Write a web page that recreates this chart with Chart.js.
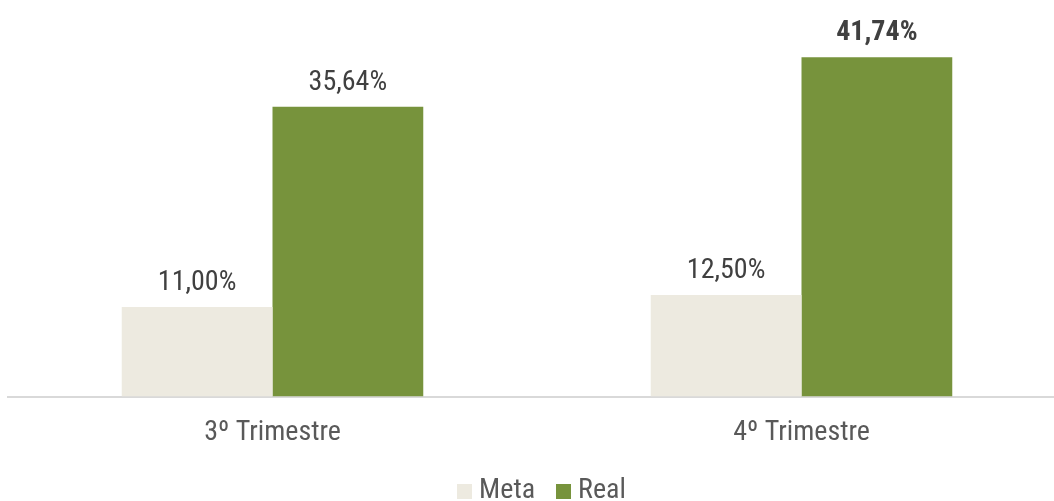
<!DOCTYPE html>
<html lang="pt">
<head>
<meta charset="utf-8">
<title>Meta x Real por trimestre</title>
<script src="https://cdn.jsdelivr.net/npm/chart.js@4/dist/chart.umd.min.js"></script>
<style>
  html, body { margin: 0; padding: 0; background: #ffffff; overflow: hidden; }
  #quadro { position: absolute; left: 0; top: 0; width: 1066px; height: 515px; }
</style>
</head>
<body>
<div id="quadro"><canvas id="grafico"></canvas></div>
<script>
// Dados do gráfico
const trimestres = ['3º Trimestre', '4º Trimestre'];
const valoresMeta = [11.00, 12.50];
const valoresReal = [35.64, 41.74];
const nomesSeries = ['Meta', 'Real'];

// Rótulo destacado em negrito (série, categoria)
const rotuloDestaque = { serie: 1, indice: 1 };

const FONTE = "'Roboto Condensed', 'Liberation Sans Narrow', 'Arial Narrow', sans-serif";
const COR_META = '#EDEAE0';
const COR_REAL = '#77933C';
const coresSeries = [COR_META, COR_REAL];

function formatarPercentual(v) {
  return v.toFixed(2).replace('.', ',') + '%';
}

// Quadrado da legenda desenhado como imagem (15 x 15)
function quadradoLegenda(cor) {
  const c = document.createElement('canvas');
  c.width = 15; c.height = 15;
  const g = c.getContext('2d');
  g.fillStyle = cor;
  g.fillRect(0, 0, 15, 15);
  return c;
}
const simbolosLegenda = coresSeries.map(quadradoLegenda);

// Escreve o valor acima de cada barra
const rotulosValores = {
  id: 'rotulosValores',
  afterDatasetsDraw(chart) {
    const ctx = chart.ctx;
    ctx.save();
    ctx.textAlign = 'center';
    ctx.textBaseline = 'alphabetic';
    ctx.fillStyle = '#404040';
    chart.data.datasets.forEach((ds, di) => {
      const meta = chart.getDatasetMeta(di);
      meta.data.forEach((barra, i) => {
        const negrito = di === rotuloDestaque.serie && i === rotuloDestaque.indice;
        ctx.font = (negrito ? 'bold ' : '') + '28px ' + FONTE;
        ctx.fillText(formatarPercentual(ds.data[i]), barra.x, barra.y - 17);
      });
    });
    ctx.restore();
  }
};

// Desloca levemente a legenda para a direita
const ajusteLegenda = {
  id: 'ajusteLegenda',
  afterLayout(chart) {
    if (chart.legend) {
      chart.legend.left += 8;
      chart.legend.right += 8;
    }
  }
};

new Chart(document.getElementById('grafico'), {
  type: 'bar',
  data: {
    labels: trimestres,
    datasets: [
      { label: nomesSeries[0], data: valoresMeta, backgroundColor: COR_META, borderWidth: 0 },
      { label: nomesSeries[1], data: valoresReal, backgroundColor: COR_REAL, borderWidth: 0 }
    ]
  },
  options: {
    responsive: true,
    maintainAspectRatio: false,
    animation: false,
    layout: { padding: { left: 8, right: 0, top: 0, bottom: 0 } },
    datasets: { bar: { categoryPercentage: 0.57, barPercentage: 1.0 } },
    scales: {
      x: {
        grid: { display: false, drawTicks: false },
        border: { display: true, color: '#d9d9d9', width: 2 },
        ticks: { color: '#595959', padding: 20, font: { family: FONTE, size: 28 } },
        afterFit(escala) { escala.height -= 21.1; }
      },
      y: { display: false, min: 0, max: 48.79 }
    },
    plugins: {
      legend: {
        position: 'bottom',
        labels: {
          color: '#595959',
          usePointStyle: true,
          boxWidth: 1,
          boxHeight: 15,
          padding: 28,
          font: { family: FONTE, size: 28 },
          generateLabels(chart) {
            const itens = Chart.defaults.plugins.legend.labels.generateLabels(chart);
            itens.forEach(item => { item.pointStyle = simbolosLegenda[item.datasetIndex]; });
            return itens;
          }
        }
      },
      tooltip: { enabled: false }
    }
  },
  plugins: [rotulosValores, ajusteLegenda]
});
</script>
</body>
</html>
